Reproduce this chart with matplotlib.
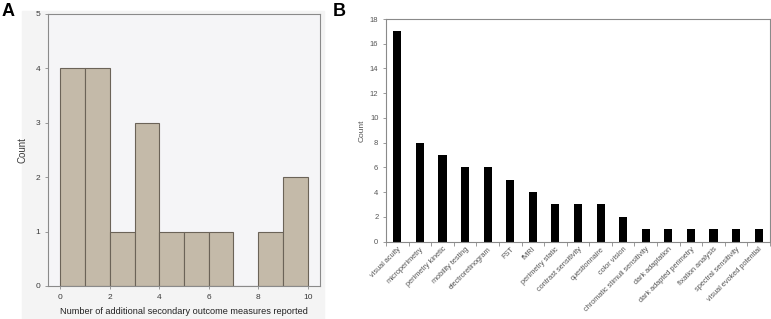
import matplotlib
import matplotlib.pyplot as plt
from matplotlib.patches import Rectangle

plt.rcParams['font.family'] = ['Liberation Sans', 'DejaVu Sans']

# === Panel A data: histogram of additional secondary outcome measures ===
bin_edges = [0, 1, 2, 3, 4, 5, 6, 7, 8, 9, 10]
bin_counts = [4, 4, 1, 3, 1, 1, 1, 0, 1, 2]

# === Panel B data: counts per outcome measure ===
measures = [
    "visual acuity", "microperimetry", "perimetry kinetic", "mobility testing",
    "electroretinogram", "FST", "fMRI", "perimetry static", "contrast sensitivity",
    "questionnaire", "color vision", "chromatic stimuli sensitivity",
    "dark adaptation", "dark adapted perimetry", "fixation analysis",
    "spectral sensitivity", "visual evoked potential",
]
measure_counts = [17, 8, 7, 6, 6, 5, 4, 3, 3, 3, 2, 1, 1, 1, 1, 1, 1]

W, H = 771, 319
fig = plt.figure(figsize=(W / 100, H / 100), dpi=100)

def box(x0, y0, x1, y1):
    # pixel box (top-left origin) -> figure fraction
    return [x0 / W, 1 - y1 / H, (x1 - x0) / W, (y1 - y0) / H]

frame_col = '#8a8a8a'
text_col = '#3a3a3a'

# grey backdrop behind panel A
fig.patches.append(Rectangle((22 / W, 0), (324 - 22) / W, 1 - 11 / H,
                             transform=fig.transFigure, color='#f4f4f4', zorder=-10))

# === Panel A ===
axA = fig.add_axes(box(48, 14, 320, 286))
axA.set_facecolor('#f5f5f7')
axA.hist(bin_edges[:-1], bins=bin_edges, weights=bin_counts,
         color='#c4baa9', edgecolor='#6b6358', linewidth=0.8)
axA.set_xlim(-0.5, 10.5)
axA.set_ylim(0, 5)
axA.set_xticks(range(0, 11, 2))
axA.set_yticks(range(0, 6))
axA.tick_params(labelsize=6, colors=frame_col, labelcolor=text_col, length=2, width=0.6)
axA.tick_params(axis='x', pad=4)
for s in axA.spines.values():
    s.set_color(frame_col)
    s.set_linewidth(0.8)
axA.set_ylabel("Count", fontsize=7, color=text_col, labelpad=6)
axA.set_xlabel("Number of additional secondary outcome measures reported",
               fontsize=6.6, color='#222222', labelpad=4)

# === Panel B ===
axB = fig.add_axes(box(386, 19, 770, 241.5))
x = list(range(len(measures)))
axB.bar(x, measure_counts, width=0.36, color='black')
axB.set_xlim(-0.5, len(measures) - 0.5)
axB.set_ylim(0, 18)
axB.set_yticks(range(0, 19, 2))
axB.set_xticks(x)
axB.set_xticklabels(measures, rotation=45, ha='right', rotation_mode='anchor',
                    fontsize=5.3, color='#555555')
axB.set_xticks([i + 0.5 for i in range(-1, len(measures))], minor=True)
axB.tick_params(axis='x', which='major', length=0, pad=3)
axB.tick_params(axis='x', which='minor', length=3, width=0.6, color=frame_col)
axB.tick_params(axis='y', labelsize=5.5, colors=frame_col, labelcolor='#555555',
                length=2, width=0.6)
for s in axB.spines.values():
    s.set_color(frame_col)
    s.set_linewidth(0.8)
axB.set_ylabel("Count", fontsize=6, color='#555555', labelpad=3)

fig.text(2 / W, 1 - 3 / H, "A", fontsize=13, fontweight='bold', va='top', ha='left')
fig.text(333 / W, 1 - 3 / H, "B", fontsize=13, fontweight='bold', va='top', ha='left')

fig.savefig("out.png", dpi=100)
